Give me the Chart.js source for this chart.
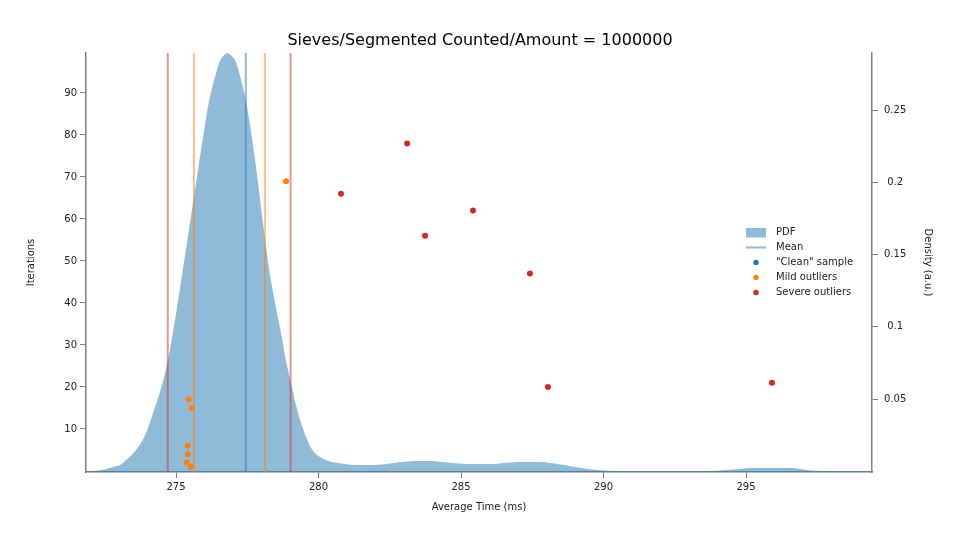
<!DOCTYPE html>
<html>
<head>
<meta charset="utf-8">
<script src="https://cdn.jsdelivr.net/npm/chart.js@4.4.0/dist/chart.umd.min.js"></script>
<style>
    html, body { margin: 0; padding: 0; background: #fff; }
    #wrap { width: 960px; height: 540px; }
</style>
</head>
<body>
<div id="wrap"><canvas id="chart" width="960" height="540"></canvas></div>
<script>
// kernel density estimate of the sample times (right axis)
const pdfTimes = [271.84, 272.19, 272.51, 272.79, 273.04, 273.25, 273.60, 273.95, 274.23, 274.53,
    274.74, 274.89, 275.05, 275.32, 275.56, 275.74, 275.95, 276.12, 276.30, 276.44,
    276.54, 276.67, 276.78, 276.89, 277.07, 277.18, 277.31, 277.48, 277.66, 277.88,
    278.05, 278.23, 278.37, 278.51, 278.71, 278.86, 279.03, 279.21, 279.41, 279.70,
    279.91, 280.11, 280.40, 280.75, 281.21, 281.91, 282.40, 282.86, 283.46, 283.91,
    284.61, 285.32, 286.12, 286.61, 287.07, 287.77, 288.37, 288.93, 289.63, 290.30,
    290.58, 293.56, 293.84, 294.33, 294.79, 295.21, 295.84, 296.61, 297.07, 297.60,
    298.05, 299.42];
const pdfDensity = [0, 0.0004, 0.0012, 0.0029, 0.0043, 0.0078, 0.0147, 0.0265, 0.0424, 0.0611,
    0.0791, 0.0957, 0.1151, 0.1497, 0.1808, 0.2043, 0.2313, 0.2521, 0.2680, 0.2777,
    0.2839, 0.2877, 0.2894, 0.2887, 0.2846, 0.2784, 0.2687, 0.2535, 0.2313, 0.1995,
    0.1718, 0.1448, 0.1275, 0.1130, 0.0929, 0.0763, 0.0618, 0.0458, 0.0320, 0.0175,
    0.0119, 0.0092, 0.0067, 0.0055, 0.0043, 0.0043, 0.0050, 0.0062, 0.0071, 0.0071,
    0.0059, 0.0050, 0.0050, 0.0059, 0.0064, 0.0064, 0.0050, 0.0031, 0.0013, 0.0002,
    0, 0, 0.0002, 0.0009, 0.0016, 0.0022, 0.0022, 0.0022, 0.0011, 0.0002,
    0, 0];

// samples (left axis)
const cleanX = [];
const cleanY = [];
const mildX = [278.86, 275.45, 275.55, 275.41, 275.41, 275.38, 275.52];
const mildY = [69, 17, 15, 6, 4, 2, 1];
const severeX = [283.11, 280.79, 285.42, 283.74, 287.42, 288.05, 295.91];
const severeY = [78, 66, 62, 56, 47, 20, 21];

// mean and outlier fences
const meanTime = 277.45;
const mildFences = [275.63, 278.12];
const severeFences = [274.71, 279.02];

const xTicks = [275, 280, 285, 290, 295];
const yTicks = [10, 20, 30, 40, 50, 60, 70, 80, 90];
const densityTicks = [0.05, 0.1, 0.15, 0.2, 0.25];

const xRange = [271.842, 299.421];
const yRange = [-0.24, 99.52];
const densityRange = [-0.0005, 0.2895];

const BLUE = "#1f77b4";
const ORANGE = "#ff7f0e";
const RED = "#d62728";
const BLUE_A = "rgba(31,119,180,0.5)";
const ORANGE_A = "rgba(255,127,14,0.5)";
const RED_A = "rgba(214,39,40,0.5)";

Chart.defaults.font.family = "'DejaVu Sans', sans-serif";
Chart.defaults.font.size = 10;
Chart.defaults.color = "#222";

const zip = (xs, ys) => xs.map((x, i) => ({ x, y: ys[i] }));

function vline(x, color) {
    return {
        type: "line",
        data: [{ x, y: yRange[0] }, { x, y: yRange[1] }],
        borderColor: color,
        borderWidth: 2,
        pointRadius: 0,
        fill: false,
        yAxisID: "y"
    };
}

function dots(xs, ys, color, label) {
    return {
        label,
        data: zip(xs, ys),
        backgroundColor: color,
        borderWidth: 0,
        pointRadius: 3,
        yAxisID: "y"
    };
}

const legendItems = [
    { kind: "box", color: BLUE_A, text: "PDF" },
    { kind: "line", color: BLUE_A, text: "Mean" },
    { kind: "dot", color: BLUE, text: "\"Clean\" sample" },
    { kind: "dot", color: ORANGE, text: "Mild outliers" },
    { kind: "dot", color: RED, text: "Severe outliers" }
];

const inlineLegend = {
    id: "inlineLegend",
    afterDatasetsDraw(chart) {
        const ctx = chart.ctx;
        ctx.save();
        ctx.font = "10px 'DejaVu Sans', sans-serif";
        ctx.textBaseline = "middle";
        ctx.textAlign = "left";
        legendItems.forEach((item, i) => {
            const cy = 232.5 + i * 15;
            ctx.fillStyle = item.color;
            ctx.strokeStyle = item.color;
            if (item.kind === "box") {
                ctx.fillRect(746, cy - 4.5, 20, 9.5);
            } else if (item.kind === "line") {
                ctx.lineWidth = 2;
                ctx.beginPath();
                ctx.moveTo(746, cy);
                ctx.lineTo(766, cy);
                ctx.stroke();
            } else {
                ctx.beginPath();
                ctx.arc(756, cy, 2.7, 0, Math.PI * 2);
                ctx.fill();
            }
            ctx.fillStyle = "#222";
            ctx.fillText(item.text, 776, cy);
        });
        ctx.restore();
    }
};

const gridOpts = { drawOnChartArea: false, drawTicks: true, tickLength: 6, color: "#808080" };

new Chart(document.getElementById("chart"), {
    type: "scatter",
    data: {
        datasets: [
            dots(severeX, severeY, RED, "Severe outliers"),
            dots(mildX, mildY, ORANGE, "Mild outliers"),
            dots(cleanX, cleanY, BLUE, "\"Clean\" sample"),
            vline(severeFences[0], RED_A),
            vline(severeFences[1], RED_A),
            vline(mildFences[0], ORANGE_A),
            vline(mildFences[1], ORANGE_A),
            vline(meanTime, BLUE_A),
            {
                type: "line",
                label: "PDF",
                data: zip(pdfTimes, pdfDensity),
                backgroundColor: BLUE_A,
                borderWidth: 0,
                borderColor: "rgba(0,0,0,0)",
                pointRadius: 0,
                fill: "origin",
                cubicInterpolationMode: "monotone",
                yAxisID: "y2"
            }
        ]
    },
    options: {
        responsive: false,
        animation: false,
        devicePixelRatio: 1,
        layout: { padding: 0 },
        plugins: {
            legend: { display: false },
            tooltip: { enabled: false },
            title: {
                display: true,
                text: "Sieves/Segmented Counted/Amount = 1000000",
                color: "#000",
                font: { size: 16, weight: "normal" },
                padding: { top: 31.4, bottom: 2.4 }
            }
        },
        scales: {
            x: {
                type: "linear",
                position: "bottom",
                min: xRange[0],
                max: xRange[1],
                afterBuildTicks: s => { s.ticks = xTicks.map(v => ({ value: v })); },
                afterFit: s => { s.height = 68; },
                ticks: { padding: 3, color: "#222", callback: v => String(v) },
                grid: gridOpts,
                border: { color: "#5b7f9c", width: 1.5 },
                title: { display: true, text: "Average Time (ms)", color: "#222", padding: { top: 0, bottom: 27 } }
            },
            y: {
                type: "linear",
                position: "left",
                min: yRange[0],
                max: yRange[1],
                afterBuildTicks: s => { s.ticks = yTicks.map(v => ({ value: v })); },
                afterFit: s => { s.width = 86; },
                ticks: { padding: 3, color: "#222", callback: v => String(v) },
                grid: gridOpts,
                border: { color: "#808080", width: 1.5 },
                title: { display: true, text: "Iterations", color: "#222", padding: { top: 25, bottom: 0 } }
            },
            y2: {
                type: "linear",
                position: "right",
                min: densityRange[0],
                max: densityRange[1],
                afterBuildTicks: s => { s.ticks = densityTicks.map(v => ({ value: v })); },
                afterFit: s => { s.width = 88; },
                ticks: { padding: 6, crossAlign: "center", color: "#222", callback: v => String(v) },
                grid: gridOpts,
                border: { color: "#808080", width: 1.5 },
                title: { display: true, text: "Density (a.u.)", color: "#222", padding: { top: 26, bottom: 0 } }
            }
        }
    },
    plugins: [inlineLegend]
});
</script>
</body>
</html>
